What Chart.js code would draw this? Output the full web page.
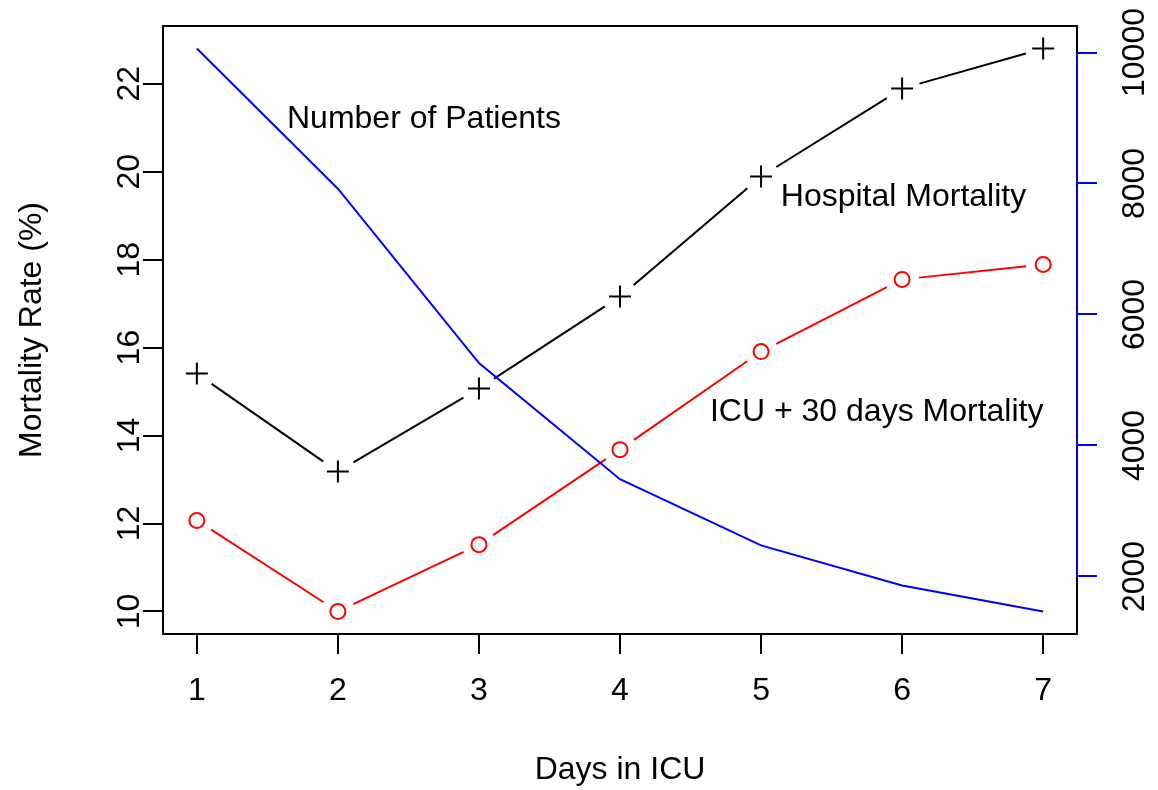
<!DOCTYPE html>
<html>
<head>
<meta charset="utf-8">
<script src="https://cdn.jsdelivr.net/npm/chart.js@4"></script>
<style>
  html, body { margin: 0; padding: 0; background: #fff; }
  #wrap { width: 1158px; height: 790px; }
</style>
</head>
<body>
<div id="wrap"><canvas id="c" width="1158" height="790"></canvas></div>
<script>
// ---- data ----
const days = [1, 2, 3, 4, 5, 6, 7];
const hospitalMortality = [15.41, 13.18, 15.07, 17.16, 19.89, 21.89, 22.80];
const icu30Mortality = [12.07, 10.00, 11.52, 13.68, 15.91, 17.55, 17.89];
const numPatients = [10061, 7920, 5258, 3484, 2474, 1862, 1465];
const xTickLabels = [1, 2, 3, 4, 5, 6, 7];
const leftTickLabels = [10, 12, 14, 16, 18, 20, 22];
const rightTickLabels = [2000, 4000, 6000, 8000, 10000];
const xTitle = 'Days in ICU';
const yTitle = 'Mortality Rate (%)';
const annotations = [
  { text: 'Number of Patients', x: 2.61, y: 21.2 },
  { text: 'Hospital Mortality', x: 6.01, y: 19.43 },
  { text: 'ICU + 30 days Mortality', x: 5.82, y: 14.54 }
];

// R-style 4% axis extension
function rRange(vals) {
  const mn = Math.min(...vals), mx = Math.max(...vals);
  const d = (mx - mn) * 0.04;
  return [mn - d, mx + d];
}
const xR = rRange(days);
const yR = rRange(hospitalMortality.concat(icu30Mortality));
const y2R = rRange(numPatients);

const FONT = '"Liberation Sans", Arial, Helvetica, sans-serif';
const FS = 32;

const toXY = (ys) => days.map((d, i) => ({ x: d, y: ys[i] }));

const rPlugin = {
  id: 'rstyle',
  beforeDatasetsDraw(chart) {
    const ctx = chart.ctx;
    chart.data.datasets.forEach((ds, di) => {
      if (!ds.rGap) return;
      const pts = chart.getDatasetMeta(di).data;
      ctx.save();
      ctx.strokeStyle = ds.borderColor;
      ctx.lineWidth = 2;
      ctx.beginPath();
      for (let i = 0; i < pts.length - 1; i++) {
        const a = pts[i], b = pts[i + 1];
        const dx = b.x - a.x, dy = b.y - a.y;
        const L = Math.hypot(dx, dy);
        if (L <= 2 * ds.rGap) continue;
        const ux = dx / L, uy = dy / L;
        ctx.moveTo(a.x + ux * ds.rGap, a.y + uy * ds.rGap);
        ctx.lineTo(b.x - ux * ds.rGap, b.y - uy * ds.rGap);
      }
      ctx.stroke();
      ctx.restore();
    });
  },
  afterDraw(chart) {
    const ctx = chart.ctx;
    const a = chart.chartArea;
    const sx = chart.scales.x, sy = chart.scales.y, sy2 = chart.scales.y2;
    ctx.save();
    // box
    ctx.strokeStyle = '#000';
    ctx.lineWidth = 2;
    ctx.strokeRect(a.left, a.top, a.right - a.left, a.bottom - a.top);
    // blue right axis line
    ctx.strokeStyle = '#0000ff';
    ctx.beginPath();
    ctx.moveTo(a.right, sy2.getPixelForValue(rightTickLabels[0]));
    ctx.lineTo(a.right, sy2.getPixelForValue(rightTickLabels[rightTickLabels.length - 1]));
    ctx.stroke();

    ctx.fillStyle = '#000';
    ctx.font = FS + 'px ' + FONT;
    ctx.textAlign = 'center';
    ctx.textBaseline = 'middle';
    // x tick labels
    xTickLabels.forEach(v => ctx.fillText(String(v), sx.getPixelForValue(v), 691));
    // x title
    ctx.fillText(xTitle, (a.left + a.right) / 2, 770);
    // left tick labels (rotated)
    leftTickLabels.forEach(v => {
      ctx.save();
      ctx.translate(130, sy.getPixelForValue(v));
      ctx.rotate(-Math.PI / 2);
      ctx.fillText(String(v), 0, 0);
      ctx.restore();
    });
    // right tick labels (rotated)
    rightTickLabels.forEach(v => {
      ctx.save();
      ctx.translate(1135, sy2.getPixelForValue(v));
      ctx.rotate(-Math.PI / 2);
      ctx.fillText(String(v), 0, 0);
      ctx.restore();
    });
    // y title
    ctx.save();
    ctx.translate(32, (a.top + a.bottom) / 2);
    ctx.rotate(-Math.PI / 2);
    ctx.fillText(yTitle, 0, 0);
    ctx.restore();
    // annotations
    annotations.forEach(t => ctx.fillText(t.text, sx.getPixelForValue(t.x), sy.getPixelForValue(t.y)));
    ctx.restore();
  }
};

function setTicks(list) {
  return (scale) => { scale.ticks = list.map(v => ({ value: v })); };
}

new Chart(document.getElementById('c'), {
  type: 'line',
  data: {
    datasets: [
      {
        label: 'Number of Patients',
        data: toXY(numPatients),
        yAxisID: 'y2',
        borderColor: '#0000ff',
        borderWidth: 2,
        pointRadius: 0,
        tension: 0,
        fill: false
      },
      {
        label: 'Hospital Mortality',
        data: toXY(hospitalMortality),
        yAxisID: 'y',
        borderColor: '#000000',
        showLine: false,
        rGap: 18,
        pointStyle: 'cross',
        pointRadius: 11,
        pointBorderWidth: 2,
        pointBorderColor: '#000000',
        pointBackgroundColor: 'rgba(0,0,0,0)'
      },
      {
        label: 'ICU + 30 days Mortality',
        data: toXY(icu30Mortality),
        yAxisID: 'y',
        borderColor: '#ff0000',
        showLine: false,
        rGap: 17,
        pointStyle: 'circle',
        pointRadius: 7.5,
        pointBorderWidth: 2,
        pointBorderColor: '#ff0000',
        pointBackgroundColor: 'rgba(0,0,0,0)'
      }
    ]
  },
  options: {
    responsive: false,
    animation: false,
    devicePixelRatio: 1,
    layout: { padding: { top: 26, left: 0, right: 0, bottom: 0 } },
    plugins: { legend: { display: false }, tooltip: { enabled: false } },
    scales: {
      x: {
        type: 'linear',
        position: 'bottom',
        min: xR[0], max: xR[1],
        afterBuildTicks: setTicks(xTickLabels),
        afterFit: (s) => { s.height = 156; },
        ticks: { display: false },
        grid: { display: true, drawOnChartArea: false, drawTicks: true, tickLength: 20, color: '#000', lineWidth: 2 },
        border: { display: false }
      },
      y: {
        type: 'linear',
        position: 'left',
        min: yR[0], max: yR[1],
        afterBuildTicks: setTicks(leftTickLabels),
        afterFit: (s) => { s.width = 163; },
        ticks: { display: false },
        grid: { display: true, drawOnChartArea: false, drawTicks: true, tickLength: 20, color: '#000', lineWidth: 2 },
        border: { display: false }
      },
      y2: {
        type: 'linear',
        position: 'right',
        min: y2R[0], max: y2R[1],
        afterBuildTicks: setTicks(rightTickLabels),
        afterFit: (s) => { s.width = 81; },
        ticks: { display: false },
        grid: { display: true, drawOnChartArea: false, drawTicks: true, tickLength: 20, color: '#0000ff', lineWidth: 2 },
        border: { display: false }
      }
    }
  },
  plugins: [rPlugin]
});
</script>
</body>
</html>
